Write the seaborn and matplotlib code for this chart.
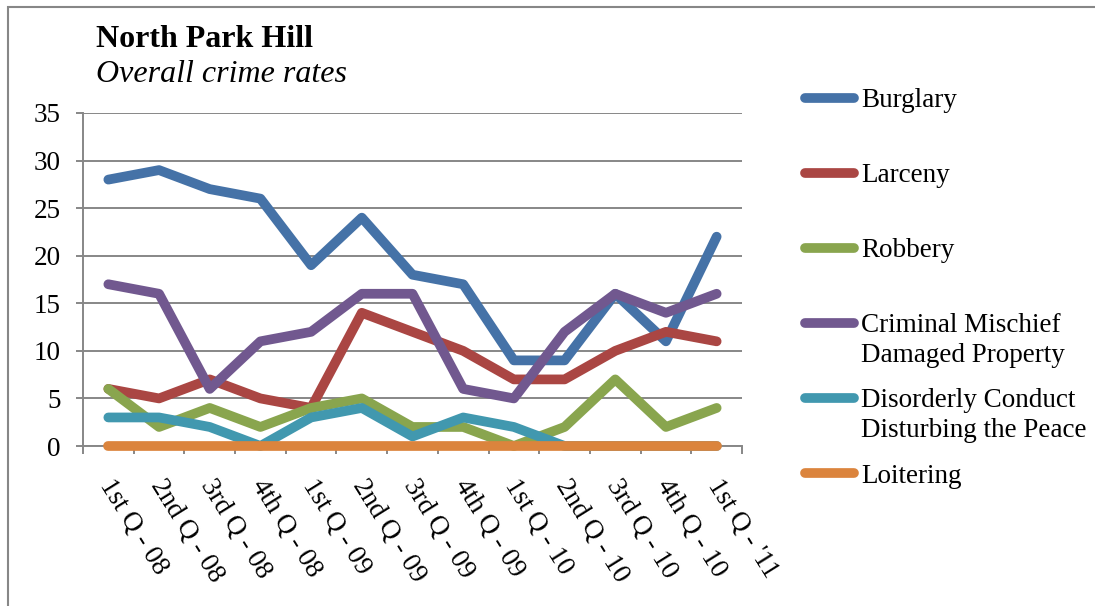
import numpy as np
import pandas as pd
import matplotlib
matplotlib.use("Agg")
import matplotlib.pyplot as plt
from matplotlib.lines import Line2D
from matplotlib.patches import Rectangle
from matplotlib.transforms import ScaledTranslation
import seaborn as sns

# ---------------- data ----------------
quarters = ["1st Q - 08", "2nd Q - 08", "3rd Q - 08", "4th Q - 08",
            "1st Q - 09", "2nd Q - 09", "3rd Q - 09", "4th Q - 09",
            "1st Q - 10", "2nd Q - 10", "3rd Q - 10", "4th Q - 10",
            "1st Q - '11"]
burglary = [28, 29, 27, 26, 19, 24, 18, 17, 9, 9, 16, 11, 22]
larceny = [6, 5, 7, 5, 4, 14, 12, 10, 7, 7, 10, 12, 11]
robbery = [6, 2, 4, 2, 4, 5, 2, 2, 0, 2, 7, 2, 4]
criminal_mischief = [17, 16, 6, 11, 12, 16, 16, 6, 5, 12, 16, 14, 16]
disorderly_conduct = [3, 3, 2, 0, 3, 4, 1, 3, 2, 0, 0, 0, 0]
loitering = [0, 0, 0, 0, 0, 0, 0, 0, 0, 0, 0, 0, 0]

series_names = ["Burglary", "Larceny", "Robbery",
                "Criminal Mischief Damaged Property",
                "Disorderly Conduct Disturbing the Peace", "Loitering"]
legend_first = ["Burglary", "Larceny", "Robbery", "Criminal Mischief",
                "Disorderly Conduct", "Loitering"]
legend_second = {3: "Damaged Property", 4: "Disturbing the Peace"}
series_values = [burglary, larceny, robbery, criminal_mischief,
                 disorderly_conduct, loitering]
colors = ["#4572a7", "#aa4643", "#89a54e", "#71588f", "#4198af", "#db843d"]

sns.set_style("white")
plt.rcParams["font.family"] = ["Liberation Serif", "DejaVu Serif"]
plt.rcParams["text.color"] = "black"
plt.rcParams["axes.labelcolor"] = "black"

W, H = 1095, 606
fig, ax = plt.subplots(figsize=(W / 100, H / 100), dpi=100)
fig.subplots_adjust(left=83 / W, right=742 / W, bottom=1 - 446 / H, top=1 - 113 / H)

LW = 7
# draw each series in order so later series sit on top (as in the original)
for k, (name, vals, col) in enumerate(zip(series_names, series_values, colors)):
    d = pd.DataFrame({"idx": np.arange(len(quarters)), "value": vals})
    n_before = len(ax.get_lines())
    sns.lineplot(data=d, x="idx", y="value", color=col, linewidth=LW,
                 legend=False, sort=False, ax=ax)
    for ln in ax.get_lines()[n_before:]:
        ln.set_clip_on(False)
        ln.set_solid_capstyle("round")
        ln.set_solid_joinstyle("round")
        ln.set_zorder(3 + 0.1 * k)

gray = "#878787"
ax.set_xlim(-0.5, len(quarters) - 0.5)
ax.set_ylim(0, 35)
ax.set_yticks(range(0, 36, 5))
ax.yaxis.grid(True, color=gray, lw=1.4)
ax.xaxis.grid(False)
ax.set_axisbelow(True)
for s in ["top", "right"]:
    ax.spines[s].set_visible(False)
for s in ["left", "bottom"]:
    ax.spines[s].set_color(gray)
    ax.spines[s].set_linewidth(1.4)

ax.set_xlabel("")
ax.set_ylabel("")
ax.tick_params(axis="y", left=True, length=5, width=1.4, color=gray,
               labelsize=19.5, pad=11, labelcolor="black")
ax.set_xticks(np.arange(len(quarters)))
ax.set_xticklabels(quarters, rotation=-58, ha="left", va="top",
                   rotation_mode="anchor")
ax.tick_params(axis="x", which="major", length=0, pad=21, labelsize=19.5,
               labelcolor="black")
ax.set_xticks(np.arange(-0.5, len(quarters), 1), minor=True)
ax.tick_params(axis="x", which="minor", bottom=True, length=6, width=1.4,
               color=gray)
shift = ScaledTranslation(7 / 100, 0, fig.dpi_scale_trans)
for lbl in ax.get_xticklabels():
    lbl.set_transform(lbl.get_transform() + shift)

# titles
fig.text(96 / W, 1 - 47 / H, "North Park Hill", fontsize=23,
         fontweight="bold", va="baseline", ha="left", color="black")
fig.text(96 / W, 1 - 82 / H, "Overall crime rates", fontsize=23,
         style="italic", va="baseline", ha="left", color="black")

# legend
handles = [Line2D([], [], color=c, lw=LW, solid_capstyle="round") for c in colors]
leg = ax.legend(handles, legend_first, loc="upper left",
                bbox_to_anchor=(805 / W, 1 - 88 / H),
                bbox_transform=fig.transFigure, frameon=False, fontsize=19.5,
                handlelength=1.81, handletextpad=0.25, borderpad=0,
                borderaxespad=0, labelspacing=1.85, labelcolor="black")
texts = leg.get_texts()
for i, extra in legend_second.items():
    ax.annotate(extra, xy=(0, 0.5), xycoords=texts[i], xytext=(0, -30),
                textcoords="offset pixels", va="center", ha="left",
                fontsize=19.5, annotation_clip=False, zorder=6, color="black")

# outer border (top and left edges visible in the frame)
fig.add_artist(Rectangle((8 / W, -0.05), 1.1, 1.05 - 7 / H,
                         transform=fig.transFigure, fill=False,
                         edgecolor=gray, lw=1.5))

fig.canvas.draw()
fig.savefig("out.png", dpi=100)
